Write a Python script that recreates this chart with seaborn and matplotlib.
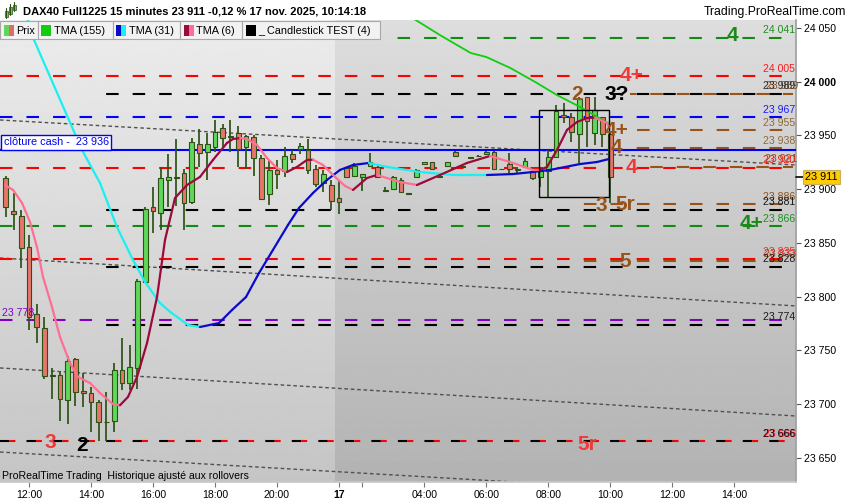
import numpy as np
import pandas as pd
import matplotlib
matplotlib.use("Agg")
import matplotlib.pyplot as plt
import matplotlib.transforms as mtransforms
from matplotlib.patches import Rectangle
from matplotlib.collections import LineCollection
import seaborn as sns

sns.set_theme(style="white")
plt.rcParams['font.family'] = ['Liberation Sans', 'DejaVu Sans']
plt.rcParams['lines.scale_dashes'] = False

# ---------------- data ----------------
day1_start, day1_end = "2025-11-14 11:15", "2025-11-14 21:45"
day2_start, day2_end = "2025-11-17 01:15", "2025-11-17 22:00"

bar_open = [23910, 23880, 23875, 23846, 23784, 23771, 23726.5, 23727, 23704, 23742,
            23712, 23710, 23702, 23683.5, 23684, 23732, 23720, 23734, 23814, 23883,
            23878, 23909, 23911, 23915, 23888, 23942, 23935, 23939, 23957, 23948.5,
            23952, 23939, 23949, 23929, 23895.5, 23918, 23917, 23932.5, 23937, 23936.5,
            23918.5, 23906, 23904, 23891.5, 23919.5, 23912, 23911, 23922, 23921, 23899,
            23900, 23909, 23896, 23911.5, 23923.5, 23925, 23912, 23922, 23935, 23921,
            23929.5, 23931, 23932.5, 23934.5, 23918.5, 23923.5, 23918, 23921, 23917, 23911,
            23917, 23929.5, 23969, 23967.5, 23951.5, 23985.5, 23952.5, 23967, 23951.5]
bar_high = [23912, 23896, 23881, 23857, 23793, 23781, 23734, 23730, 23745, 23743,
            23729, 23716, 23704, 23711, 23738, 23762, 23755, 23816, 23883, 23902,
            23921, 23933, 23947, 23919, 23948, 23956, 23952, 23964, 23961, 23964,
            23959, 23950.5, 23950.5, 23932, 23927, 23927, 23939, 23936.5, 23943, 23947,
            23922.5, 23918, 23908.5, 23908.5, 23921, 23924, 23914.5, 23934, 23922, 23902.5,
            23912, 23910, 23896.5, 23918.5, 23925.5, 23925.5, 23912.5, 23925.5, 23935.5, 23921.5,
            23930, 23931.5, 23935.5, 23935.5, 23919, 23933.5, 23921, 23929, 23919.5, 23921,
            23936.5, 23978.5, 23980, 23970.5, 23986, 23986, 23986, 23967.5, 23953.5]
bar_low = [23874, 23862, 23827, 23769, 23757, 23723, 23705, 23684, 23682, 23698,
           23697, 23674, 23666, 23666, 23674, 23713, 23713, 23714, 23813, 23859,
           23862, 23883, 23884, 23862, 23886, 23921, 23909, 23935, 23938, 23935,
           23921, 23919, 23912, 23889.5, 23885.5, 23900, 23911.5, 23924, 23933, 23914,
           23902, 23897, 23880.5, 23877, 23910, 23911.5, 23898.5, 23921, 23910, 23897,
           23899, 23897, 23895, 23911, 23923, 23918, 23911, 23921.5, 23930, 23920,
           23929, 23930.5, 23932, 23918, 23918, 23915, 23915, 23919.5, 23908.5, 23902,
           23893, 23929, 23961.5, 23944, 23924, 23939.5, 23941, 23939.5, 23887]
bar_close = [23883, 23877, 23845, 23781, 23772, 23726, 23726, 23705, 23740, 23711,
             23710, 23702, 23683, 23683, 23732, 23720, 23735, 23815, 23882, 23880,
             23910, 23911, 23910.5, 23887, 23944, 23934, 23942, 23953, 23948, 23949,
             23937, 23949.5, 23929, 23890.5, 23918, 23914, 23931, 23928.5, 23940, 23918,
             23905, 23914, 23889, 23888, 23911.5, 23921.5, 23914, 23925.5, 23911, 23898.5,
             23911, 23897.5, 23895.5, 23918, 23925, 23918.5, 23911.5, 23925, 23931, 23920.5,
             23929, 23930.5, 23934.5, 23918.5, 23918.5, 23918.5, 23918, 23926.5, 23910, 23918,
             23929.5, 23973, 23967, 23953, 23983.5, 23963, 23973.5, 23951.5, 23911]

tick_times = ["2025-11-14 12:00", "2025-11-14 14:00", "2025-11-14 16:00", "2025-11-14 18:00",
              "2025-11-14 20:00", "2025-11-17 01:15", "2025-11-17 04:00", "2025-11-17 06:00",
              "2025-11-17 08:00", "2025-11-17 10:00", "2025-11-17 12:00", "2025-11-17 14:00"]
tick_labels = ["12:00", "14:00", "16:00", "18:00", "20:00", "17", "04:00", "06:00",
               "08:00", "10:00", "12:00", "14:00"]
minor_tick_times = ["2025-11-17 02:00"]
price_ticks = [23650, 23700, 23750, 23800, 23850, 23900, 23950, 24000, 24050]

# moving averages: (bar position, value)
tma155_pos = [51.0, 52.9, 56.0, 60.0, 62.0, 65.1, 68.3, 71.1, 74.1, 77.7]
tma155_val = [24064, 24057.4, 24043.5, 24026.7, 24023.0, 24012.8, 23999.8, 23987.7, 23976.5, 23961.6]

tma31_pos = [2.0, 2.87, 3.65, 9.84, 12.16, 14.35, 16.42, 17.97, 19.90, 21.19, 23.52, 25.06,
             27.52, 29.19, 31.0, 32.68, 34.48, 36.42, 37.84, 39.65, 41.45, 43.13, 44.81,
             46.87, 49.19, 53.45, 57.71, 62.1, 65.45, 68.03, 70.23, 71.5, 74.1, 76.29, 77.84]
tma31_val = [24078, 24057.4, 24038.8, 23936.5, 23905.8, 23864.8, 23834.1, 23813.7, 23794.1,
             23786.0, 23773.7, 23771.8, 23775.5, 23787.6, 23799.7, 23822.0, 23843.5, 23866.7,
             23882.5, 23896.5, 23908.6, 23917.9, 23922.5, 23924.4, 23920.7, 23916.0, 23913.2,
             23913.2, 23914.1, 23916.0, 23917.9, 23919.7, 23923.4, 23925.3, 23928.1]

tma6_pos = [-0.1, 0.94, 2.10, 3.13, 4.03, 4.81, 5.97, 7.0, 8.29, 9.32, 10.87, 12.16, 13.84,
            14.74, 15.77, 16.94, 18.23, 19.52, 20.55, 21.84, 23.39, 25.06, 26.74, 28.55,
            29.32, 30.23, 31.13, 32.42, 33.71, 35.0, 36.29, 37.58, 38.87, 39.65, 40.94,
            42.23, 43.77, 44.81, 46.61, 47.9, 50.87, 53.06, 56.03, 59.52, 62.48, 65.45,
            68.03, 68.94, 69.84, 71.13, 72.42, 73.71, 75.0, 76.03, 76.68, 77.58, 77.84]
tma6_val = [23903.9, 23899.3, 23887.2, 23869.5, 23846.2, 23818.3, 23790.4, 23762.5, 23738.3,
            23725.3, 23719.7, 23710.4, 23700.0, 23699.0, 23706.7, 23725.3, 23756.9, 23799.7,
            23852.8, 23891.8, 23903.9, 23911.4, 23927.2, 23943.0, 23946.7, 23947.6, 23946.7,
            23941.1, 23929.0, 23919.7, 23916.0, 23920.7, 23927.2, 23927.4, 23922.5, 23913.2,
            23903.0, 23899.3, 23910.4, 23913.2, 23906.7, 23903.9, 23913.2, 23924.4, 23930.9,
            23924.4, 23917.9, 23917.9, 23920.7, 23936.5, 23955.1, 23962.5, 23966.2, 23966.7,
            23964.4, 23961.6, 23957.9]

# horizontal levels
level_values = [24041, 24005, 23989, 23989, 23967, 23955, 23938, 23920, 23921, 23886,
                23881, 23866, 23835, 23833, 23828, 23778, 23774, 23666, 23666]
level_colors = ["#138a13", "#ff0000", "#000000", "#98531a", "#0000ff", "#98531a", "#98531a",
                "#ff0000", "#98531a", "#98531a", "#000000", "#138a13", "#ff0000", "#98531a",
                "#000000", "#8000c8", "#000000", "#000000", "#ff0000"]
level_start = [49.5, -0.74, 11.9, 80.5, -0.74, 80.5, 79.9, -0.74, 81.8, 73.8,
               11.9, -0.74, -0.74, 73.8, 11.9, -0.74, 11.9, -0.74, -0.74]
level_end = 101.6
level_dash = ["std", "std", "std", "alt", "std", "std", "std", "std", "alt", "std",
              "std", "std", "std", "std", "std", "std", "std", "short", "tail"]

right_label_values = [24041, 24005, 23989, 23989, 23967, 23955, 23938, 23921, 23920, 23886,
                      23881, 23866, 23833, 23835, 23828, 23774, 23666, 23666]
right_label_colors = ["#1f8f1f", "#ff1a1a", "#8b5220", "#2a2a2a", "#1a1aff", "#8b6a3a",
                      "#8b6a3a", "#8b5220", "#ff1a1a", "#8b5220", "#1a1a1a", "#1f8f1f",
                      "#8b5220", "#ff2a2a", "#1a1a1a", "#1a1a1a", "#ff1a1a", "#2a0010"]
right_label_shift = [0, 0, 3, 0, 0, 0, 0, 2, 0, 0, 0, 0, 1, 0, 0, 0, 1, 0]

closing_cash = 23936
purple_level = 23778
last_price = 23911

mark_texts = ["4", "4+", "2", "3?", "4+", "4", "4", "3", "5r", "4+", "5", "3", "2", "5r"]
mark_colors = ["#1a8a1a", "#f03a3a", "#96541a", "#000000", "#96541a", "#96541a", "#f03a3a",
               "#96541a", "#96541a", "#1a8a1a", "#96541a", "#f03a3a", "#000000", "#f03a3a"]
mark_pos = [93.8, 80.8, 73.7, 78.9, 78.8, 78.8, 80.8, 76.8, 79.9, 96.3, 79.9, 5.7, 9.8, 75.0]
mark_val = [24045, 24008, 23990, 23990, 23956.6, 23940.5, 23922.5, 23887, 23887.4, 23869.5,
            23835, 23666.5, 23663, 23664]

box_bars = (68.8, 77.85)
box_prices = (23892.7, 23973.7)

trend_start = [23964.4, 23836.0, 23733.7, 23655.5]
trend_end = [23922.5, 23791.4, 23689.0, 23612.3]

# ---------------- figure ----------------
W, H = 850, 500
fig = plt.figure(figsize=(8.5, 5), dpi=100, facecolor="white")
ax = fig.add_axes([0, 18 / H, 796 / W, 462 / H])
xmin, xmax = -0.742, 101.97
ymin, ymax = 23627.6, 24057.4

slots = pd.date_range(day1_start, day1_end, freq="15min").append(
    pd.date_range(day2_start, day2_end, freq="15min"))
slot_index = {t: i for i, t in enumerate(slots)}
split = len(pd.date_range(day1_start, day1_end, freq="15min")) - 0.5

# background gradients
grad = np.linspace(0, 1, 256).reshape(-1, 1)
ax.imshow(0.925 + (0.772 - 0.925) * grad, cmap="gray", vmin=0, vmax=1,
          extent=[xmin, split, ymin, ymax], origin="upper", aspect="auto", zorder=0)
ax.imshow(0.868 + (0.700 - 0.868) * grad, cmap="gray", vmin=0, vmax=1,
          extent=[split, xmax, ymin, ymax], origin="upper", aspect="auto", zorder=0)
ax.set_xlim(xmin, xmax)
ax.set_ylim(ymin, ymax)
ax.set_facecolor("none")

# trend lines (dotted)
for s, e in zip(trend_start, trend_end):
    sns.lineplot(x=[xmin, xmax], y=[s, e], ax=ax, color="#505050", lw=1.0,
                 linestyle=(0, (2.6, 2.0)), zorder=2)

fig.canvas.draw()
px_per_bar = ax.transData.transform((1, 0))[0] - ax.transData.transform((0, 0))[0]
P = 19.1
def offset_for(start, shift):
    s_pt = (start - xmin) * px_per_bar * 0.72
    return (s_pt - shift) % P

for v, col, st, kind in zip(level_values, level_colors, level_start, level_dash):
    if kind == "std":
        ls = (offset_for(st, 0), (9.0, P - 9.0))
    elif kind == "alt":
        ls = (offset_for(st, 9.55), (9.0, P - 9.0))
    elif kind == "short":
        ls = (offset_for(st, 0), (6.8, P - 6.8))
    else:
        ls = (offset_for(st, 6.8), (4.3, P - 4.3))
    ax.plot([st, level_end], [v, v], color=col, lw=1.5, linestyle=ls,
            solid_capstyle="butt", dash_capstyle="butt", zorder=3)

# closing cash solid line
ax.axhline(closing_cash, color="#0000ff", lw=1.5, zorder=3)

# candles
pos = np.arange(len(bar_open))
o = np.array(bar_open); hi = np.array(bar_high); lo = np.array(bar_low); c = np.array(bar_close)
up = c >= o
wick = "#2c5214"
ax.vlines(pos, lo, hi, color=wick, lw=1.25, zorder=4)
body_bot = np.minimum(o, c)
body_h = np.maximum(np.abs(c - o), 0.7)
ax.bar(pos, body_h, bottom=body_bot, width=0.62,
       color=["#5fd85a" if u else "#e6766c" for u in up],
       edgecolor=wick, linewidth=0.8, zorder=5)

# moving averages
sns.lineplot(x=tma155_pos, y=tma155_val, ax=ax, color="#11cc11", lw=1.3, zorder=6)

def slope_colored(xs, ys, up_col, dn_col, lw):
    xs = np.asarray(xs); ys = np.asarray(ys)
    segs = [[(xs[i], ys[i]), (xs[i + 1], ys[i + 1])] for i in range(len(xs) - 1)]
    cols = [up_col if ys[i + 1] > ys[i] else dn_col for i in range(len(xs) - 1)]
    lc = LineCollection(segs, colors=cols, linewidths=lw, capstyle="round", zorder=6)
    ax.add_collection(lc)

slope_colored(tma31_pos, tma31_val, "#0a0acc", "#19f0f0", 1.6)
slope_colored(tma6_pos, tma6_val, "#9a0a3c", "#ff6f93", 1.6)

# pattern box
ax.add_patch(Rectangle((box_bars[0], box_prices[0]), box_bars[1] - box_bars[0],
                       box_prices[1] - box_prices[0], fill=False, ec="#000000", lw=1.0, zorder=7))

# right labels for levels
ytr = ax.get_yaxis_transform()
for v, col, sh in zip(right_label_values, right_label_colors, right_label_shift):
    ax.annotate(f"{v:,}".replace(",", " "), xy=(0.9985, v), xycoords=ytr,
                xytext=(sh * 0.72, 5.2), textcoords="offset points",
                ha="right", va="center", fontsize=7.6, color=col, zorder=8)

ax.annotate(f"{purple_level:,}".replace(",", " "), xy=(0.002, purple_level), xycoords=ytr,
            xytext=(0, 5.6), textcoords="offset points", ha="left", va="center",
            fontsize=7.6, color="#8000c8", zorder=8)

ax.annotate("clôture cash -  " + f"{closing_cash:,}".replace(",", " "),
            xy=(0.0, closing_cash), xycoords=ytr, xytext=(2.6, 2.4), textcoords="offset points",
            ha="left", va="bottom", fontsize=7.8, color="#0000ee", zorder=9,
            bbox=dict(boxstyle="square,pad=0.22", fc="white", ec="#0000ff", lw=1.0))

# big pattern marks
for t, col, xp, yv in zip(mark_texts, mark_colors, mark_pos, mark_val):
    ax.text(xp, yv, t, color=col, fontsize=15, fontweight="bold", ha="center",
            va="center_baseline", zorder=9)

# axes styling
for side in ["left", "top"]:
    ax.spines[side].set_visible(False)
ax.spines["right"].set_color("#a0a0a0")
ax.spines["bottom"].set_color("#c8c8c8")
ax.yaxis.tick_right()
ax.set_yticks(price_ticks)
ax.set_yticklabels([f"{p:,}".replace(",", " ") for p in price_ticks])
for lab, p in zip(ax.get_yticklabels(), price_ticks):
    if p % 1000 == 0:
        lab.set_fontweight("bold")
ax.tick_params(axis="y", which="both", right=True, length=3.5, width=0.8, color="#555555",
               labelsize=7.6, pad=2.5, labelcolor="#000000")

tick_pos = [slot_index[pd.Timestamp(t)] for t in tick_times]
minor_pos = [slot_index[pd.Timestamp(t)] for t in minor_tick_times]
ax.set_xticks(tick_pos)
ax.set_xticklabels(tick_labels)
ax.set_xticks(minor_pos, minor=True)
for lab, t in zip(ax.get_xticklabels(), tick_labels):
    if ":" not in t:
        lab.set_fontweight("bold")
ax.tick_params(axis="x", which="both", bottom=True, length=3.5, width=0.8, color="#777777",
               labelsize=7.6, pad=2.0, labelcolor="#000000")
ax.grid(False)

# current price tag
fig.text(805 / W, 1 - 177 / H, f"{last_price:,}".replace(",", " "), fontsize=7.8,
         ha="left", va="center", color="#000000",
         bbox=dict(boxstyle="square,pad=0.2", fc="#ffcc00", ec="#c8b060", lw=0.8))
fig.add_artist(plt.Line2D([796 / W, 803 / W], [1 - 177 / H] * 2, color="#000000", lw=1.2))

# bottom text
fig.text(2 / W, 1 - 476 / H, "ProRealTime Trading  Historique ajusté aux rollovers",
         fontsize=7.6, ha="left", va="center", color="#000000")

# title bar
fig.text(23 / W, 1 - 12 / H, "DAX40 Full1225 15 minutes 23 911 -0,12 % 17 nov. 2025, 10:14:18",
         fontsize=8, fontweight="bold", ha="left", va="center", color="#000000")
fig.text(846 / W, 1 - 12 / H, "Trading.ProRealTime.com", fontsize=8.8, ha="right",
         va="center", color="#000000")
for (xc, y0, y1) in [(6, 9, 17), (10, 5, 14), (14, 3, 10)]:
    fig.add_artist(plt.Line2D([xc / W] * 2, [1 - (y0 - 1) / H, 1 - (y1 + 1) / H],
                              color="#2c5214", lw=0.8))
    fig.add_artist(Rectangle(((xc - 1.5) / W, 1 - y1 / H), 3 / W, (y1 - y0 - 2) / H,
                             transform=fig.transFigure, fc="#5fd85a", ec="#2c5214", lw=0.5))

# legend row
legend_boxes = [(0, 37.7, "Prix"), (37.7, 112.7, "TMA (155)"), (112.7, 180, "TMA (31)"),
                (180, 242, "TMA (6)"), (242, 380, "_ Candlestick TEST (4)")]
swatches = [["#5fd85a", "#e06a64"], ["#11cc11"], ["#0a0acc", "#19f0f0"],
            ["#9a0a3c", "#ff6f93"], ["#000000"]]
for (x0, x1, txt), sw in zip(legend_boxes, swatches):
    fig.add_artist(Rectangle((x0 / W, 1 - 39 / H), (x1 - x0) / W, 18 / H,
                             transform=fig.transFigure, fc="#f2f2f2", ec="#a8a8a8", lw=0.8))
    n = len(sw)
    for k, col in enumerate(sw):
        fig.add_artist(Rectangle(((x0 + 3.5 + k * 10 / n) / W, 1 - 35.5 / H), (10 / n) / W,
                                 10 / H, transform=fig.transFigure, fc=col, ec="none"))
    fig.text((x0 + 16.5) / W, 1 - 30.5 / H, txt, fontsize=7.8, ha="left", va="center",
             color="#000000")

fig.savefig("out.png", dpi=100, facecolor="white")
